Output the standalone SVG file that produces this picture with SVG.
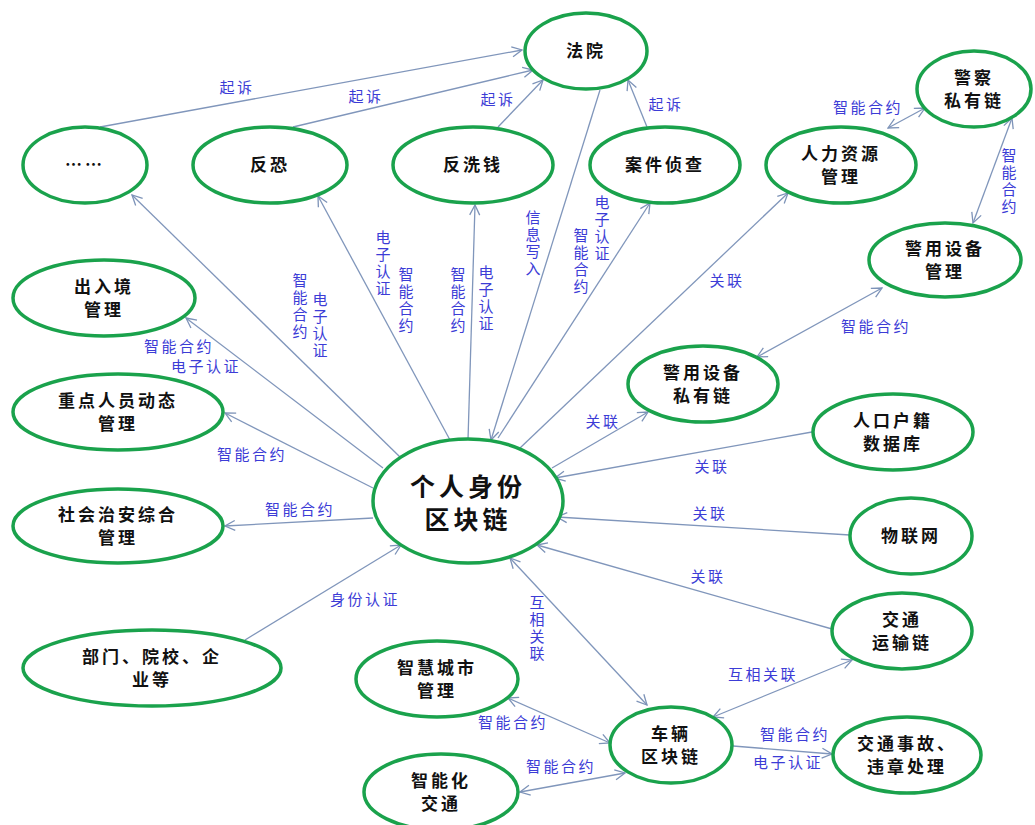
<svg xmlns="http://www.w3.org/2000/svg" width="1035" height="825" viewBox="0 0 1035 825">
<style>
.n{fill:#fff;stroke:#1aa24c;stroke-width:3.5}
.t{font-family:"Noto Sans CJK SC","Noto Sans",sans-serif;font-size:17px;font-weight:bold;fill:#111;text-anchor:middle;letter-spacing:3px}
.tc{font-size:25px;letter-spacing:4px}
.c line{stroke:#8096bb;stroke-width:1.3}
.l{font-family:"Noto Sans CJK SC","Noto Sans",sans-serif;font-size:15px;fill:#3c3cd6;text-anchor:middle;letter-spacing:2.5px}
.l .v{writing-mode:vertical-rl;text-anchor:start;letter-spacing:2px}
</style>
<defs>
<marker id="a" viewBox="0 0 12 12" refX="11" refY="6" markerWidth="12" markerHeight="12" markerUnits="userSpaceOnUse" orient="auto-start-reverse">
<path d="M1,1 L11,6 L1,11" fill="none" stroke="#7d93b8" stroke-width="1.3"/>
</marker>
</defs>
<rect width="1035" height="825" fill="#fff"/>
<g class="c" id="connectors">
<line x1="100" y1="127" x2="522" y2="50" marker-end="url(#a)"/>
<line x1="293" y1="127" x2="533" y2="70" marker-end="url(#a)"/>
<line x1="498" y1="127" x2="543" y2="80" marker-end="url(#a)"/>
<line x1="647" y1="127" x2="628" y2="80" marker-end="url(#a)"/>
<line x1="600" y1="90" x2="491" y2="440" marker-end="url(#a)"/>
<line x1="498" y1="438" x2="650" y2="203" marker-end="url(#a)"/>
<line x1="468" y1="440" x2="475" y2="205" marker-end="url(#a)"/>
<line x1="450" y1="440" x2="318" y2="196" marker-end="url(#a)"/>
<line x1="400" y1="457" x2="132" y2="195" marker-end="url(#a)"/>
<line x1="383" y1="468" x2="186" y2="318" marker-end="url(#a)"/>
<line x1="373" y1="488" x2="225" y2="413" marker-end="url(#a)"/>
<line x1="373" y1="518" x2="225" y2="526" marker-end="url(#a)"/>
<line x1="245" y1="640" x2="401" y2="545" marker-end="url(#a)"/>
<line x1="520" y1="448" x2="788" y2="193" marker-end="url(#a)"/>
<line x1="552" y1="468" x2="648" y2="412" marker-end="url(#a)"/>
<line x1="757" y1="357" x2="882" y2="288" marker-start="url(#a)" marker-end="url(#a)"/>
<line x1="888" y1="128" x2="925" y2="108" marker-start="url(#a)" marker-end="url(#a)"/>
<line x1="1012" y1="118" x2="973" y2="223" marker-start="url(#a)" marker-end="url(#a)"/>
<line x1="812" y1="432" x2="555" y2="478" marker-end="url(#a)"/>
<line x1="850" y1="535" x2="557" y2="517" marker-end="url(#a)"/>
<line x1="832" y1="629" x2="537" y2="545" marker-end="url(#a)"/>
<line x1="510" y1="558" x2="647" y2="705" marker-start="url(#a)" marker-end="url(#a)"/>
<line x1="852" y1="660" x2="713" y2="717" marker-start="url(#a)" marker-end="url(#a)"/>
<line x1="508" y1="698" x2="610" y2="743" marker-start="url(#a)" marker-end="url(#a)"/>
<line x1="520" y1="792" x2="625" y2="773" marker-start="url(#a)" marker-end="url(#a)"/>
<line x1="733" y1="746" x2="832" y2="754" marker-end="url(#a)"/>
</g>
<g id="labels" class="l">
<text x="237" y="93">起诉</text>
<text x="366" y="102">起诉</text>
<text x="498" y="105">起诉</text>
<text x="666" y="110">起诉</text>
<text class="v" x="533" y="210">信息写入</text>
<text class="v" x="602" y="195">电子认证</text>
<text class="v" x="581" y="228">智能合约</text>
<text class="v" x="458" y="267">智能合约</text>
<text class="v" x="486" y="265">电子认证</text>
<text class="v" x="383" y="230">电子认证</text>
<text class="v" x="406" y="267">智能合约</text>
<text class="v" x="300" y="273">智能合约</text>
<text class="v" x="320" y="292">电子认证</text>
<text x="179" y="352">智能合约</text>
<text x="206" y="372">电子认证</text>
<text x="252" y="460">智能合约</text>
<text x="300" y="515">智能合约</text>
<text x="365" y="605">身份认证</text>
<text x="727" y="286">关联</text>
<text x="603" y="427">关联</text>
<text x="868" y="113">智能合约</text>
<text class="v" x="1009" y="148">智能合约</text>
<text x="876" y="332">智能合约</text>
<text x="712" y="472">关联</text>
<text x="710" y="519">关联</text>
<text x="708" y="582">关联</text>
<text class="v" x="537" y="595">互相关联</text>
<text x="763" y="680">互相关联</text>
<text x="513" y="728">智能合约</text>
<text x="561" y="772">智能合约</text>
<text x="795" y="740">智能合约</text>
<text x="788" y="768">电子认证</text>
</g>
<g id="n-court"><ellipse class="n" cx="586" cy="51" rx="61" ry="38"/><text class="t" x="586" y="57">法院</text></g>
<g id="n-etc"><ellipse class="n" cx="85" cy="165" rx="62" ry="38"/><text class="t" x="85" y="171">……</text></g>
<g id="n-terror"><ellipse class="n" cx="270" cy="165" rx="77" ry="38"/><text class="t" x="270" y="171">反恐</text></g>
<g id="n-aml"><ellipse class="n" cx="473" cy="165" rx="80" ry="38"/><text class="t" x="473" y="171">反洗钱</text></g>
<g id="n-case"><ellipse class="n" cx="665" cy="165" rx="75" ry="38"/><text class="t" x="665" y="171">案件侦查</text></g>
<g id="n-hr"><ellipse class="n" cx="841" cy="165" rx="75" ry="38"/><text class="t" x="841" y="160">人力资源</text><text class="t" x="841" y="183">管理</text></g>
<g id="n-police"><ellipse class="n" cx="974" cy="89" rx="57" ry="38"/><text class="t" x="974" y="84">警察</text><text class="t" x="974" y="107">私有链</text></g>
<g id="n-equipmgmt"><ellipse class="n" cx="945" cy="260" rx="76" ry="37"/><text class="t" x="945" y="255">警用设备</text><text class="t" x="945" y="278">管理</text></g>
<g id="n-border"><ellipse class="n" cx="104" cy="298" rx="91" ry="38"/><text class="t" x="104" y="293">出入境</text><text class="t" x="104" y="316">管理</text></g>
<g id="n-keyperson"><ellipse class="n" cx="118" cy="412" rx="105" ry="38"/><text class="t" x="118" y="407">重点人员动态</text><text class="t" x="118" y="430">管理</text></g>
<g id="n-security"><ellipse class="n" cx="118" cy="526" rx="105" ry="37"/><text class="t" x="118" y="521">社会治安综合</text><text class="t" x="118" y="544">管理</text></g>
<g id="n-dept"><ellipse class="n" cx="152" cy="668" rx="129" ry="38"/><text class="t" x="152" y="663">部门、院校、企</text><text class="t" x="152" y="686">业等</text></g>
<g id="n-center"><ellipse class="n" cx="468" cy="501" rx="95" ry="62"/><text class="t tc" x="468" y="496">个人身份</text><text class="t tc" x="468" y="529">区块链</text></g>
<g id="n-equipchain"><ellipse class="n" cx="703" cy="384" rx="75" ry="38"/><text class="t" x="703" y="379">警用设备</text><text class="t" x="703" y="402">私有链</text></g>
<g id="n-census"><ellipse class="n" cx="893" cy="432" rx="80" ry="38"/><text class="t" x="893" y="427">人口户籍</text><text class="t" x="893" y="450">数据库</text></g>
<g id="n-iot"><ellipse class="n" cx="911" cy="536" rx="61" ry="38"/><text class="t" x="911" y="542">物联网</text></g>
<g id="n-transport"><ellipse class="n" cx="902" cy="631" rx="70" ry="38"/><text class="t" x="902" y="626">交通</text><text class="t" x="902" y="649">运输链</text></g>
<g id="n-vehicle"><ellipse class="n" cx="671" cy="745" rx="61" ry="38"/><text class="t" x="671" y="740">车辆</text><text class="t" x="671" y="763">区块链</text></g>
<g id="n-accident"><ellipse class="n" cx="907" cy="755" rx="74" ry="38"/><text class="t" x="907" y="750">交通事故、</text><text class="t" x="907" y="773">违章处理</text></g>
<g id="n-smartcity"><ellipse class="n" cx="437" cy="679" rx="81" ry="38"/><text class="t" x="437" y="674">智慧城市</text><text class="t" x="437" y="697">管理</text></g>
<g id="n-smarttraffic"><ellipse class="n" cx="441" cy="792" rx="77" ry="38"/><text class="t" x="441" y="787">智能化</text><text class="t" x="441" y="810">交通</text></g>
</svg>
